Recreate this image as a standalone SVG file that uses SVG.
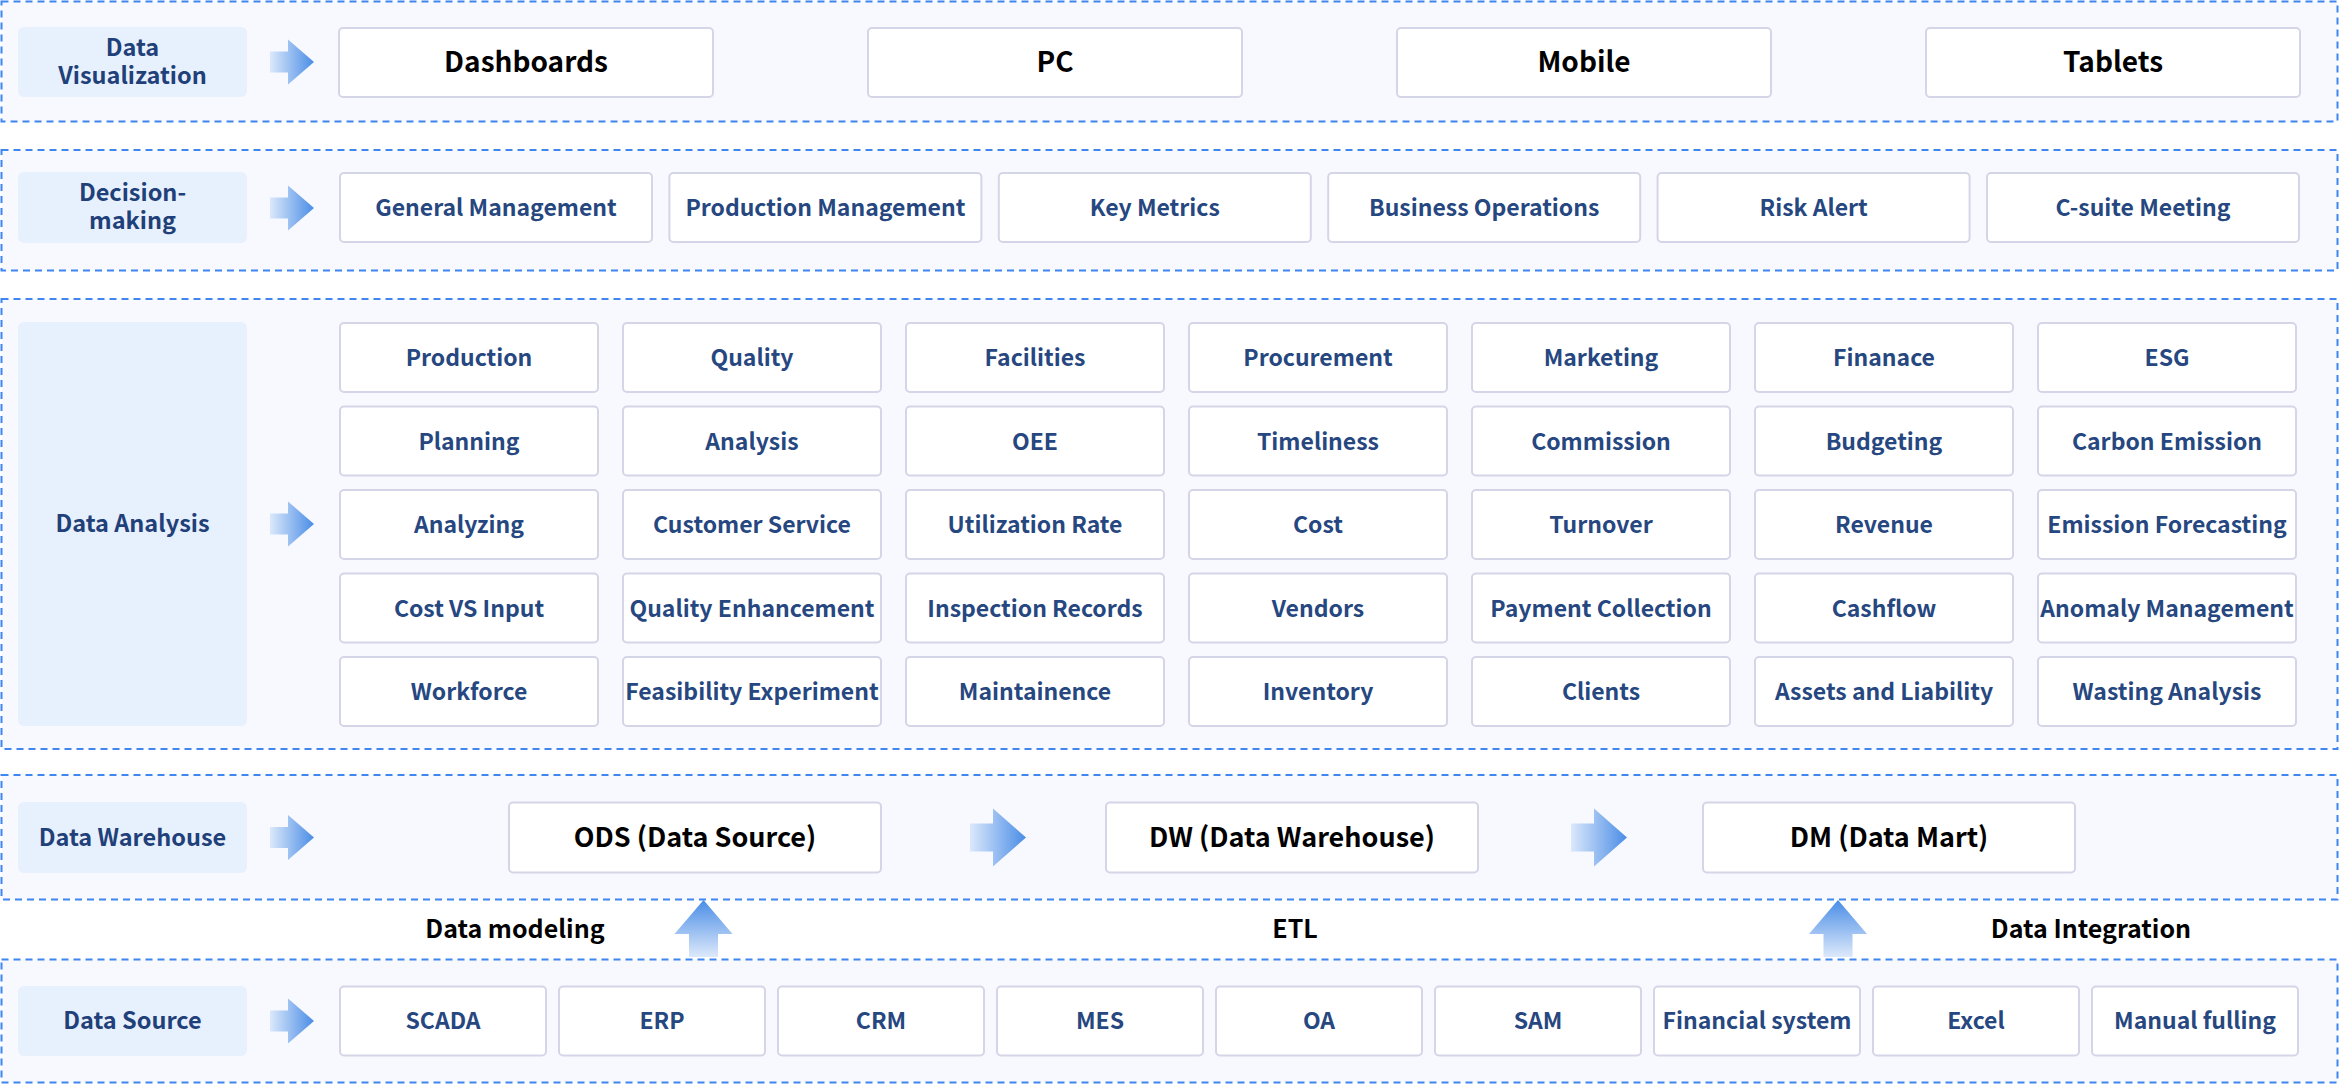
<svg xmlns="http://www.w3.org/2000/svg" xmlns:xlink="http://www.w3.org/1999/xlink" width="2340" height="1084" viewBox="0 0 2340 1084">
<style>
.sec{fill:#f7f9fe;stroke:#3f86f0;stroke-width:2;stroke-dasharray:7 5}
.lab{fill:#e7f0fd}
.card{fill:#ffffff;stroke:#d5d5e8;stroke-width:2}
text{font-family:"Noto Sans CJK SC","Source Sans Pro","Noto Sans",sans-serif;text-anchor:middle}
.lt{font-size:23.5px;font-weight:700;fill:#1f4079}
.ct{font-size:23px;font-weight:600;fill:#264780}
.bt{font-size:28px;font-weight:700;fill:#000000}
.wt{font-size:27px;font-weight:700;fill:#000000}
.et{font-size:25px;font-weight:700;fill:#000000}
</style>
<defs>
<linearGradient id="gh" x1="0" y1="0" x2="1" y2="0">
<stop offset="0" stop-color="#dbe8fb"/>
<stop offset="1" stop-color="#4a8de6"/>
</linearGradient>
<linearGradient id="gv" x1="0" y1="0" x2="0" y2="1">
<stop offset="0" stop-color="#4a8de6"/>
<stop offset="1" stop-color="#dde9fb"/>
</linearGradient>
<path id="ra" d="M0,-10.5 H18 V-22.5 L44,0 L18,22.5 V10.5 H0 Z" fill="url(#gh)"/>
<path id="rb" d="M0,-14 H23 V-29 L56,0 L23,29 V14 H0 Z" fill="url(#gh)"/>
<path id="ua" d="M0,0 L29,34 H14.5 V57 H-14.5 V34 H-29 Z" fill="url(#gv)"/>
</defs>

<g id="sections">
<rect class="sec" x="1.5" y="1.5" width="2336" height="120"/>
<rect class="sec" x="1.5" y="150" width="2336" height="120.5"/>
<rect class="sec" x="1.5" y="299" width="2336" height="450"/>
<rect class="sec" x="1.5" y="775" width="2336" height="124.5"/>
<rect class="sec" x="1.5" y="959.5" width="2336" height="123"/>
</g>

<g id="layer-labels">
<g id="lab-vis"><rect class="lab" x="18" y="27" width="229" height="70" rx="6"/><text class="lt" x="132.5" y="56"><tspan x="132.5" y="56">Data</tspan><tspan x="132.5" y="84">Visualization</tspan></text></g>
<g id="lab-dec"><rect class="lab" x="18" y="172" width="229" height="71" rx="6"/><text class="lt" x="132.5" y="201"><tspan x="132.5" y="201">Decision-</tspan><tspan x="132.5" y="229">making</tspan></text></g>
<g id="lab-ana"><rect class="lab" x="18" y="322" width="229" height="404" rx="6"/><text class="lt" x="132.5" y="532">Data Analysis</text></g>
<g id="lab-dw"><rect class="lab" x="18" y="802" width="229" height="71" rx="6"/><text class="lt" x="132.5" y="846">Data Warehouse</text></g>
<g id="lab-src"><rect class="lab" x="18" y="986" width="229" height="70" rx="6"/><text class="lt" x="132.5" y="1029">Data Source</text></g>
</g>

<g id="row-visualization">
<g id="n-dashboards"><rect class="card" x="339" y="28" width="374" height="69" rx="4"/><text class="bt" x="526" y="72">Dashboards</text></g>
<g id="n-pc"><rect class="card" x="868" y="28" width="374" height="69" rx="4"/><text class="bt" x="1055" y="72">PC</text></g>
<g id="n-mobile"><rect class="card" x="1397" y="28" width="374" height="69" rx="4"/><text class="bt" x="1584" y="72">Mobile</text></g>
<g id="n-tablets"><rect class="card" x="1926" y="28" width="374" height="69" rx="4"/><text class="bt" x="2113" y="72">Tablets</text></g>
</g>

<g id="row-decision">
<g id="n-gm"><rect class="card" x="340" y="173" width="312" height="69" rx="4"/><text class="ct" x="496" y="216">General Management</text></g>
<g id="n-pm"><rect class="card" x="669.4" y="173" width="312" height="69" rx="4"/><text class="ct" x="825.4" y="216">Production Management</text></g>
<g id="n-km"><rect class="card" x="998.8" y="173" width="312" height="69" rx="4"/><text class="ct" x="1154.8" y="216">Key Metrics</text></g>
<g id="n-bo"><rect class="card" x="1328.2" y="173" width="312" height="69" rx="4"/><text class="ct" x="1484.2" y="216">Business Operations</text></g>
<g id="n-ra"><rect class="card" x="1657.6" y="173" width="312" height="69" rx="4"/><text class="ct" x="1813.6" y="216">Risk Alert</text></g>
<g id="n-cs"><rect class="card" x="1987" y="173" width="312" height="69" rx="4"/><text class="ct" x="2143" y="216">C-suite Meeting</text></g>
</g>

<g id="row-analysis">
<g id="col1">
<g id="n-a11"><rect class="card" x="340" y="323" width="258" height="69" rx="4"/><text class="ct" x="469" y="366">Production</text></g>
<g id="n-a12"><rect class="card" x="340" y="406.5" width="258" height="69" rx="4"/><text class="ct" x="469" y="449.5">Planning</text></g>
<g id="n-a13"><rect class="card" x="340" y="490" width="258" height="69" rx="4"/><text class="ct" x="469" y="533">Analyzing</text></g>
<g id="n-a14"><rect class="card" x="340" y="573.5" width="258" height="69" rx="4"/><text class="ct" x="469" y="616.5">Cost VS Input</text></g>
<g id="n-a15"><rect class="card" x="340" y="657" width="258" height="69" rx="4"/><text class="ct" x="469" y="700">Workforce</text></g>
</g>
<g id="col2">
<g id="n-a21"><rect class="card" x="623" y="323" width="258" height="69" rx="4"/><text class="ct" x="752" y="366">Quality</text></g>
<g id="n-a22"><rect class="card" x="623" y="406.5" width="258" height="69" rx="4"/><text class="ct" x="752" y="449.5">Analysis</text></g>
<g id="n-a23"><rect class="card" x="623" y="490" width="258" height="69" rx="4"/><text class="ct" x="752" y="533">Customer Service</text></g>
<g id="n-a24"><rect class="card" x="623" y="573.5" width="258" height="69" rx="4"/><text class="ct" x="752" y="616.5">Quality Enhancement</text></g>
<g id="n-a25"><rect class="card" x="623" y="657" width="258" height="69" rx="4"/><text class="ct" x="752" y="700">Feasibility Experiment</text></g>
</g>
<g id="col3">
<g id="n-a31"><rect class="card" x="906" y="323" width="258" height="69" rx="4"/><text class="ct" x="1035" y="366">Facilities</text></g>
<g id="n-a32"><rect class="card" x="906" y="406.5" width="258" height="69" rx="4"/><text class="ct" x="1035" y="449.5">OEE</text></g>
<g id="n-a33"><rect class="card" x="906" y="490" width="258" height="69" rx="4"/><text class="ct" x="1035" y="533">Utilization Rate</text></g>
<g id="n-a34"><rect class="card" x="906" y="573.5" width="258" height="69" rx="4"/><text class="ct" x="1035" y="616.5">Inspection Records</text></g>
<g id="n-a35"><rect class="card" x="906" y="657" width="258" height="69" rx="4"/><text class="ct" x="1035" y="700">Maintainence</text></g>
</g>
<g id="col4">
<g id="n-a41"><rect class="card" x="1189" y="323" width="258" height="69" rx="4"/><text class="ct" x="1318" y="366">Procurement</text></g>
<g id="n-a42"><rect class="card" x="1189" y="406.5" width="258" height="69" rx="4"/><text class="ct" x="1318" y="449.5">Timeliness</text></g>
<g id="n-a43"><rect class="card" x="1189" y="490" width="258" height="69" rx="4"/><text class="ct" x="1318" y="533">Cost</text></g>
<g id="n-a44"><rect class="card" x="1189" y="573.5" width="258" height="69" rx="4"/><text class="ct" x="1318" y="616.5">Vendors</text></g>
<g id="n-a45"><rect class="card" x="1189" y="657" width="258" height="69" rx="4"/><text class="ct" x="1318" y="700">Inventory</text></g>
</g>
<g id="col5">
<g id="n-a51"><rect class="card" x="1472" y="323" width="258" height="69" rx="4"/><text class="ct" x="1601" y="366">Marketing</text></g>
<g id="n-a52"><rect class="card" x="1472" y="406.5" width="258" height="69" rx="4"/><text class="ct" x="1601" y="449.5">Commission</text></g>
<g id="n-a53"><rect class="card" x="1472" y="490" width="258" height="69" rx="4"/><text class="ct" x="1601" y="533">Turnover</text></g>
<g id="n-a54"><rect class="card" x="1472" y="573.5" width="258" height="69" rx="4"/><text class="ct" x="1601" y="616.5">Payment Collection</text></g>
<g id="n-a55"><rect class="card" x="1472" y="657" width="258" height="69" rx="4"/><text class="ct" x="1601" y="700">Clients</text></g>
</g>
<g id="col6">
<g id="n-a61"><rect class="card" x="1755" y="323" width="258" height="69" rx="4"/><text class="ct" x="1884" y="366">Finanace</text></g>
<g id="n-a62"><rect class="card" x="1755" y="406.5" width="258" height="69" rx="4"/><text class="ct" x="1884" y="449.5">Budgeting</text></g>
<g id="n-a63"><rect class="card" x="1755" y="490" width="258" height="69" rx="4"/><text class="ct" x="1884" y="533">Revenue</text></g>
<g id="n-a64"><rect class="card" x="1755" y="573.5" width="258" height="69" rx="4"/><text class="ct" x="1884" y="616.5">Cashflow</text></g>
<g id="n-a65"><rect class="card" x="1755" y="657" width="258" height="69" rx="4"/><text class="ct" x="1884" y="700">Assets and Liability</text></g>
</g>
<g id="col7">
<g id="n-a71"><rect class="card" x="2038" y="323" width="258" height="69" rx="4"/><text class="ct" x="2167" y="366">ESG</text></g>
<g id="n-a72"><rect class="card" x="2038" y="406.5" width="258" height="69" rx="4"/><text class="ct" x="2167" y="449.5">Carbon Emission</text></g>
<g id="n-a73"><rect class="card" x="2038" y="490" width="258" height="69" rx="4"/><text class="ct" x="2167" y="533">Emission Forecasting</text></g>
<g id="n-a74"><rect class="card" x="2038" y="573.5" width="258" height="69" rx="4"/><text class="ct" x="2167" y="616.5">Anomaly Management</text></g>
<g id="n-a75"><rect class="card" x="2038" y="657" width="258" height="69" rx="4"/><text class="ct" x="2167" y="700">Wasting Analysis</text></g>
</g>
</g>

<g id="row-warehouse">
<g id="n-ods"><rect class="card" x="509" y="802.5" width="372" height="70" rx="4"/><text class="wt" x="695" y="847">ODS (Data Source)</text></g>
<g id="n-dw"><rect class="card" x="1106" y="802.5" width="372" height="70" rx="4"/><text class="wt" x="1292" y="847">DW (Data Warehouse)</text></g>
<g id="n-dm"><rect class="card" x="1703" y="802.5" width="372" height="70" rx="4"/><text class="wt" x="1889" y="847">DM (Data Mart)</text></g>
</g>

<g id="row-source">
<g id="n-s1"><rect class="card" x="340" y="986.5" width="206" height="69" rx="4"/><text class="ct" x="443" y="1029">SCADA</text></g>
<g id="n-s2"><rect class="card" x="559" y="986.5" width="206" height="69" rx="4"/><text class="ct" x="662" y="1029">ERP</text></g>
<g id="n-s3"><rect class="card" x="778" y="986.5" width="206" height="69" rx="4"/><text class="ct" x="881" y="1029">CRM</text></g>
<g id="n-s4"><rect class="card" x="997" y="986.5" width="206" height="69" rx="4"/><text class="ct" x="1100" y="1029">MES</text></g>
<g id="n-s5"><rect class="card" x="1216" y="986.5" width="206" height="69" rx="4"/><text class="ct" x="1319" y="1029">OA</text></g>
<g id="n-s6"><rect class="card" x="1435" y="986.5" width="206" height="69" rx="4"/><text class="ct" x="1538" y="1029">SAM</text></g>
<g id="n-s7"><rect class="card" x="1654" y="986.5" width="206" height="69" rx="4"/><text class="ct" x="1757" y="1029">Financial system</text></g>
<g id="n-s8"><rect class="card" x="1873" y="986.5" width="206" height="69" rx="4"/><text class="ct" x="1976" y="1029">Excel</text></g>
<g id="n-s9"><rect class="card" x="2092" y="986.5" width="206" height="69" rx="4"/><text class="ct" x="2195" y="1029">Manual fulling</text></g>
</g>

<g id="connectors">
<use xlink:href="#ra" href="#ra" x="270" y="62"/>
<use xlink:href="#ra" href="#ra" x="270" y="208"/>
<use xlink:href="#ra" href="#ra" x="270" y="524"/>
<use xlink:href="#ra" href="#ra" x="270" y="837.5"/>
<use xlink:href="#ra" href="#ra" x="270" y="1021"/>
<use xlink:href="#rb" href="#rb" x="970" y="837.5"/>
<use xlink:href="#rb" href="#rb" x="1571" y="837.5"/>
<use xlink:href="#ua" href="#ua" x="703.5" y="900"/>
<use xlink:href="#ua" href="#ua" x="1838" y="900"/>
</g>

<g id="flow-labels">
<text class="et" x="515" y="938">Data modeling</text>
<text class="et" x="1295" y="938">ETL</text>
<text class="et" x="2091" y="938">Data Integration</text>
</g>
</svg>
